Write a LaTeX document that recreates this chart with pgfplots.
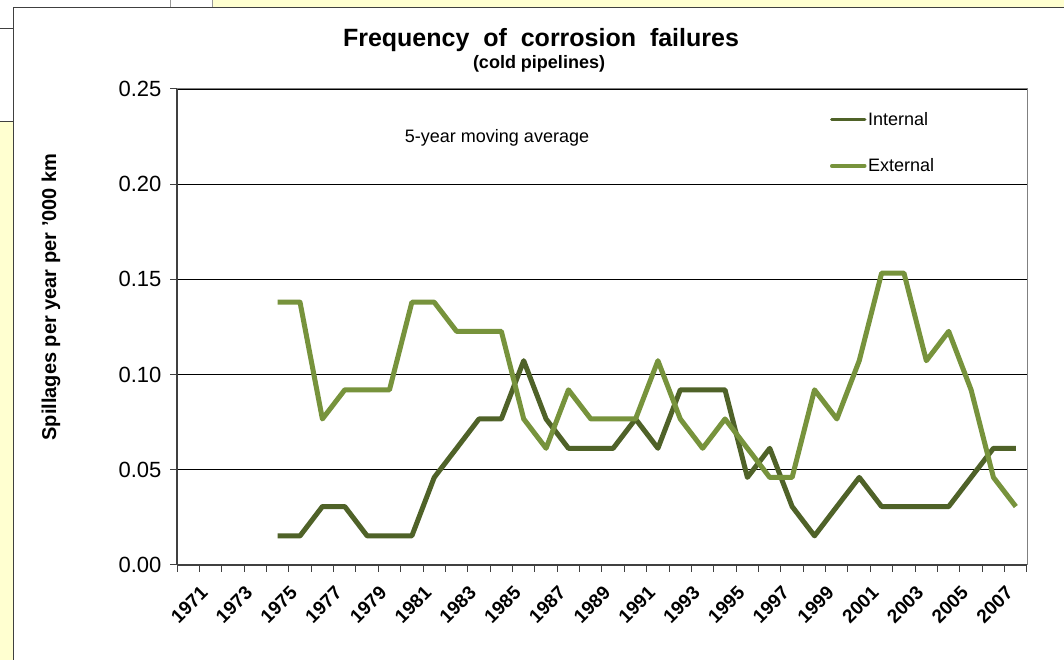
\documentclass[border=0pt]{standalone}
\usepackage{pgfplots}
\pgfplotsset{compat=1.18}
\usepackage{pgfplotstable}
\usepackage{fontspec}
\setmainfont{Liberation Sans}

\definecolor{intcol}{RGB}{79,98,40}
\definecolor{extcol}{RGB}{119,147,60}
\definecolor{bgyellow}{RGB}{255,255,208}
\definecolor{framegray}{RGB}{64,64,64}

% 5-year moving averages, spillages per year per '000 km
\pgfplotstableread{
year internal external
1975 0.0153 0.1380
1976 0.0153 0.1380
1977 0.0307 0.0767
1978 0.0307 0.0920
1979 0.0153 0.0920
1980 0.0153 0.0920
1981 0.0153 0.1380
1982 0.0460 0.1380
1983 0.0613 0.1227
1984 0.0767 0.1227
1985 0.0767 0.1227
1986 0.1073 0.0767
1987 0.0767 0.0613
1988 0.0613 0.0920
1989 0.0613 0.0767
1990 0.0613 0.0767
1991 0.0767 0.0767
1992 0.0613 0.1073
1993 0.0920 0.0767
1994 0.0920 0.0613
1995 0.0920 0.0767
1996 0.0460 0.0613
1997 0.0613 0.0460
1998 0.0307 0.0460
1999 0.0153 0.0920
2000 0.0307 0.0767
2001 0.0460 0.1073
2002 0.0307 0.1533
2003 0.0307 0.1533
2004 0.0307 0.1073
2005 0.0307 0.1227
2006 0.0460 0.0920
2007 0.0613 0.0460
2008 0.0613 0.0307
}\corrosion

\newcommand{\yearfont}{\bfseries\fontsize{19}{22}\selectfont}

\begin{document}
\begin{tikzpicture}[x=1pt,y=1pt]
% page = 1064 x 660, coordinates (y flipped)
\path[use as bounding box] (0,0) rectangle (1064,660);
\fill[white] (0,0) rectangle (1064,660);
% spreadsheet bits showing around the chart
\fill[bgyellow] (213,652) rectangle (1064,660);
\draw[gray!80, line width=0.8] (170,652) -- (170,660);
\draw[gray!80, line width=0.8] (212.5,652) -- (212.5,660);
\fill[bgyellow] (0,0) rectangle (13,538);
\draw[framegray, line width=1] (0,631) -- (13,631);
\draw[framegray, line width=1] (0,538) -- (13,538);
\draw[framegray, line width=1.5] (13.5,0) -- (13.5,652.5) -- (1064,652.5);

\begin{axis}[
  at={(177pt,95pt)}, anchor=south west,
  scale only axis, width=850pt, height=476pt,
  xmin=1970.5, xmax=2008.5, ymin=0, ymax=0.25,
  axis lines*=left,
  axis line style={framegray, line width=1.2pt},
  tick align=outside, major tick length=7pt, minor tick length=7pt,
  tick style={framegray, line width=1pt},
  xtick={1971,1973,...,2007},
  minor xtick={1970.5,1971.5,...,2008.5},
  every major x tick/.append style={draw=none},
  xticklabel={\yearfont\pgfmathprintnumber[1000 sep={}, assume math mode=true]{\tick}},
  x tick label style={rotate=45, anchor=north east, inner sep=1pt, xshift=0pt, yshift=-16pt},
  ytick={0,0.05,0.1,0.15,0.2,0.25},
  y tick label style={font=\fontsize{22}{26}\selectfont, xshift=-5pt,
    /pgf/number format/.cd, fixed, fixed zerofill, precision=2, assume math mode=true},
  ymajorgrids,
  major grid style={black, line width=0.8pt},
  legend style={at={(rel axis cs:0.768,0.955)}, anchor=north west, draw=none, fill=none,
    inner sep=0pt, row sep=29pt, font=\fontsize{18}{20}\selectfont,
    nodes={inner sep=1.5pt}},
  legend cell align=left,
  legend image code/.code={\draw[#1, line width=3.5pt, line cap=round] (0pt,0pt) -- (33pt,0pt);},
  clip=false,
]
  \addplot[intcol, line width=5pt, line join=round] table[x=year, y=internal] {\corrosion};
  \addplot[extcol, line width=5pt, line join=round] table[x=year, y=external] {\corrosion};
  \legend{Internal, External}
  \draw[gray, line width=1pt] (rel axis cs:0,1) -- (rel axis cs:1,1) -- (rel axis cs:1,0);
  \node[anchor=base, font=\fontsize{18}{20}\selectfont] at (rel axis cs:0.3765,0.887) {5-year moving average};
\end{axis}

\node[anchor=base, font=\bfseries\fontsize{25}{28}\selectfont] at (541,613.5) {Frequency \ of \ corrosion \ failures};
\node[anchor=base, font=\bfseries\fontsize{18}{21}\selectfont] at (539,591) {(cold pipelines)};
\node[rotate=90, font=\bfseries\fontsize{20}{24}\selectfont] at (51,363) {Spillages per year per '000 km};
\end{tikzpicture}
\end{document}
